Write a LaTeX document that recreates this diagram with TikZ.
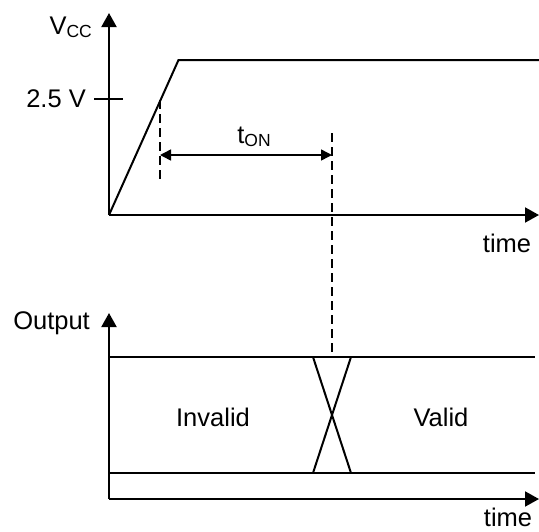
\documentclass[tikz,border=0pt]{standalone}
\usepackage{fontspec}
\setmainfont{Liberation Sans}
\usetikzlibrary{arrows.meta}
\tikzset{
  ax/.style={line width=2pt,-{Triangle[length=14pt,width=15pt]}},
  sig/.style={line width=2pt},
  dsh/.style={line width=1.5pt,dash pattern=on 9pt off 5pt},
  dim/.style={line width=1.5pt,{Triangle[length=11pt,width=11pt]}-{Triangle[length=11pt,width=11pt]}},
  lbl/.style={inner sep=0pt,font=\fontsize{25.5}{28}\selectfont},
}
\newcommand{\subtx}[1]{{\fontsize{17.5}{20}\selectfont #1}}
\begin{document}
\begin{tikzpicture}[x=1pt,y=-1pt]
\useasboundingbox (0,0) rectangle (539,531);
% top plot coordinates
\coordinate (o1) at (109,215);
\coordinate (y1) at (109,13);
\coordinate (x1) at (539,215);
\coordinate (r1) at (178.5,60);
\coordinate (f1) at (539,60);
\coordinate (tkL) at (94,99);
\coordinate (tkR) at (123,99);
\coordinate (d1a) at (160,100);
\coordinate (d1b) at (160,181);
\coordinate (d2a) at (332,133);
\coordinate (d2b) at (332,357);
\coordinate (a1) at (160,155);
\coordinate (a2) at (332,155);
% bottom plot coordinates
\coordinate (o2) at (109,499);
\coordinate (y2) at (109,313);
\coordinate (x2) at (539,499);
\coordinate (hiL) at (109,357);
\coordinate (hiR) at (535,357);
\coordinate (loL) at (109,473);
\coordinate (loR) at (535,473);
\coordinate (c1) at (313,357);
\coordinate (c2) at (351,357);
\coordinate (c3) at (313,473);
\coordinate (c4) at (351,473);
% top plot
\draw[ax] (o1) -- (y1);
\draw[ax] (o1) -- (x1);
\draw[sig] (o1) -- (r1) -- (f1);
\draw[sig] (tkL) -- (tkR);
\draw[dsh] (d1a) -- (d1b);
\draw[dsh] (d2a) -- (d2b);
\draw[dim] (a1) -- (a2);
\node[lbl,anchor=east] (vcc) at (92,27) {V\raisebox{-3pt}{\subtx{CC}}};
\node[lbl,anchor=east] (v25) at (86,99) {2.5 V};
\node[lbl] (ton) at (254,137) {t\raisebox{-3pt}{\subtx{ON}}};
\node[lbl,anchor=base] (time1) at (507,252) {time};
% bottom plot
\draw[ax] (o2) -- (y2);
\draw[ax] (o2) -- (x2);
\draw[sig] (hiL) -- (hiR);
\draw[sig] (loL) -- (loR);
\draw[sig] (c1) -- (c4);
\draw[sig] (c2) -- (c3);
\node[lbl,anchor=east] (out) at (90,323) {Output};
\node[lbl] (inv) at (213,417) {Invalid};
\node[lbl] (val) at (441,417) {Valid};
\node[lbl,anchor=base] (time2) at (508,526) {time};
\end{tikzpicture}
\end{document}
